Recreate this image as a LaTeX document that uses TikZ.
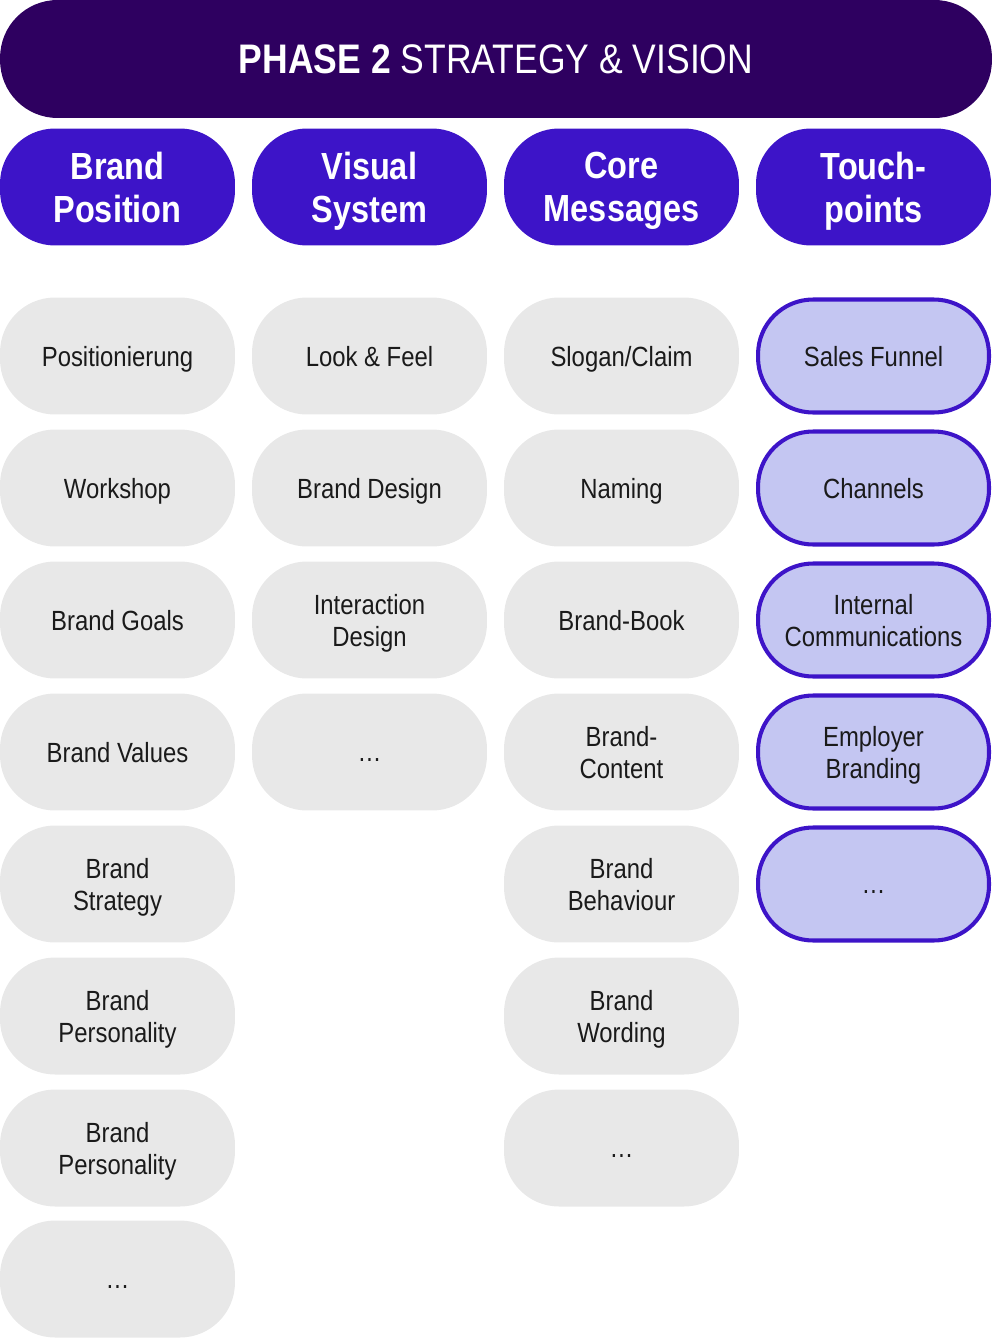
\documentclass[tikz,border=0pt]{standalone}
\usepackage{fontspec}
\setmainfont[FakeStretch=0.86]{Liberation Sans}
\usepackage{xcolor}
\usepackage{tikz}
\usetikzlibrary{positioning}

\definecolor{phasepurple}{HTML}{2E0060}
\definecolor{headblue}{HTML}{3D14C8}
\definecolor{itemgray}{HTML}{E8E8E8}
\definecolor{touchfill}{HTML}{C4C6F2}
\definecolor{itemtext}{HTML}{1A1A1A}

\newcommand{\moredots}{\vphantom{B}…}

\begin{document}
\begin{tikzpicture}[x=0.02cm, y=-0.02cm,
    phase/.style={fill=phasepurple, rounded corners=1.15cm, minimum width=19.84cm, minimum height=2.36cm, text depth=0pt, text=white, font=\fontsize{23.5}{28}\selectfont},
    colhead/.style={fill=headblue, rounded corners=1.1cm, minimum width=4.7cm, minimum height=2.34cm, text depth=0pt, text=white, align=center, font=\bfseries\fontsize{21.5}{24.5}\selectfont},
    item/.style={fill=itemgray, rounded corners=1.1cm, minimum width=4.7cm, minimum height=2.34cm, text depth=0pt, text=itemtext, align=center, font=\fontsize{15.8}{18.2}\selectfont},
    touch/.style={item, fill=touchfill, draw=headblue, line width=2.3pt, minimum width=4.62cm, minimum height=2.26cm}]
      \useasboundingbox (0, 0) rectangle (994, 1338);

      % phase banner
      \node[phase] (phase) at (496, 59) {\textbf{PHASE 2} STRATEGY \& VISION};

      % column heads
      \node[colhead] (hpos) at (117.5, 187) {Brand\\Position};
      \node[colhead] (hvis) at (369.5, 187) {Visual\\System};
      \node[colhead] (hcore) at (621.5, 187) {Core\\Messages};
      \node[colhead] (htouch) at (873.5, 187) {Touch-\\points};

      % brand position
      \node[item] (pos1) at (117.5, 356) {Positionierung};
      \node[item] (pos2) at (117.5, 488) {Workshop};
      \node[item] (pos3) at (117.5, 620) {Brand Goals};
      \node[item] (pos4) at (117.5, 752) {Brand Values};
      \node[item] (pos5) at (117.5, 884) {Brand\\Strategy};
      \node[item] (pos6) at (117.5, 1016) {Brand\\Personality};
      \node[item] (pos7) at (117.5, 1148) {Brand\\Personality};
      \node[item] (pos8) at (117.5, 1279) {\moredots};

      % visual system
      \node[item] (vis1) at (369.5, 356) {Look \& Feel};
      \node[item] (vis2) at (369.5, 488) {Brand Design};
      \node[item] (vis3) at (369.5, 620) {Interaction\\Design};
      \node[item] (vis4) at (369.5, 752) {\moredots};

      % core messages
      \node[item] (core1) at (621.5, 356) {Slogan/Claim};
      \node[item] (core2) at (621.5, 488) {Naming};
      \node[item] (core3) at (621.5, 620) {Brand-Book};
      \node[item] (core4) at (621.5, 752) {Brand-\\Content};
      \node[item] (core5) at (621.5, 884) {Brand\\Behaviour};
      \node[item] (core6) at (621.5, 1016) {Brand\\Wording};
      \node[item] (core7) at (621.5, 1148) {\moredots};

      % touchpoints
      \node[touch] (touch1) at (873.5, 356) {Sales Funnel};
      \node[touch] (touch2) at (873.5, 488) {Channels};
      \node[touch] (touch3) at (873.5, 620) {Internal\\Communications};
      \node[touch] (touch4) at (873.5, 752) {Employer\\Branding};
      \node[touch] (touch5) at (873.5, 884) {\moredots};
    \end{tikzpicture}
\end{document}
